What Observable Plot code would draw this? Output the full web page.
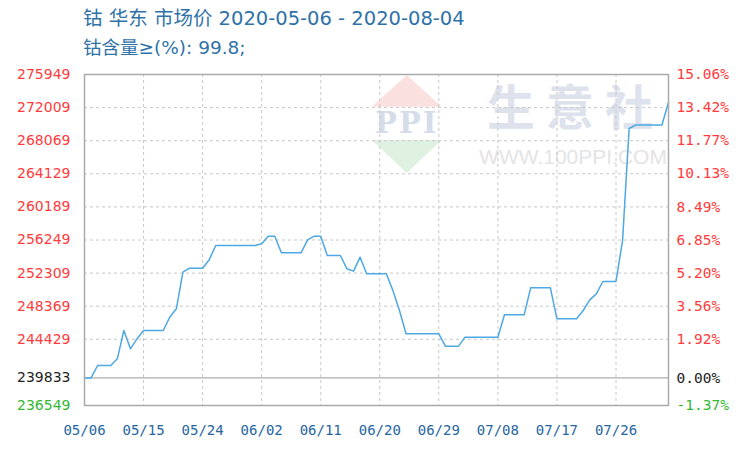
<!DOCTYPE html>
<html><head><meta charset="utf-8">
<script src="https://cdn.jsdelivr.net/npm/d3@7"></script>
<script src="https://cdn.jsdelivr.net/npm/@observablehq/plot@0.6"></script>
<style>
body{margin:0;background:#fff;width:738px;height:456px;overflow:hidden}
#head{height:64px;position:relative;font-family:"DejaVu Sans","Noto Sans CJK SC",sans-serif;color:#2f72a8}
#t1{position:absolute;left:83px;top:7px;font-size:19.5px;line-height:24px;white-space:nowrap}
#t2{position:absolute;left:83px;top:36px;font-size:18.5px;line-height:24px;white-space:nowrap}
#chart svg{display:block}
</style></head>
<body>
<div id="head"><div id="t1"></div><div id="t2"></div></div>
<div id="chart"></div>
<script>
const titleText = "钴 华东 市场价 2020-05-06 - 2020-08-04";
const subtitleText = "钴含量≥(%): 99.8;";
const startDate = "2020-05-06";
const prices = [
  239833, 239833, 241311, 241311, 241311, 242108, 245477, 243297, 244487, 245477,
  245477, 245477, 245477, 247062, 248057, 252419, 252896, 252896, 252896, 253890,
  255595, 255595, 255595, 255595, 255595, 255595, 255595, 255794, 256702, 256702,
  254724, 254724, 254724, 254724, 256270, 256702, 256702, 254405, 254405, 254405,
  252819, 252540, 254207, 252223, 252223, 252223, 252223, 250239, 247858, 245081,
  245081, 245081, 245081, 245081, 245081, 243612, 243612, 243612, 244683, 244683,
  244683, 244683, 244683, 244683, 247343, 247343, 247343, 247343, 250557, 250557,
  250557, 250557, 246867, 246867, 246867, 246867, 247858, 249127, 249842, 251310,
  251310, 251310, 256189, 269521, 269938, 269938, 269938, 269938, 269938, 272652
];
const yTicksUp = [275949, 272009, 268069, 264129, 260189, 256249, 252309, 248369, 244429];
const yTickBase = 239833;
const yTickDown = 236549;
const pctUp = ["15.06%", "13.42%", "11.77%", "10.13%", "8.49%", "6.85%", "5.20%", "3.56%", "1.92%"];
const pctBase = "0.00%";
const pctDown = "-1.37%";
const xTickLabels = ["05/06", "05/15", "05/24", "06/02", "06/11", "06/20", "06/29", "07/08", "07/17", "07/26"];

document.getElementById("t1").textContent = titleText;
document.getElementById("t2").textContent = subtitleText;

const start = new Date(startDate + "T00:00:00Z");
const data = prices.map((v, i) => ({date: d3.utcDay.offset(start, i), value: v}));
const xTicks = xTickLabels.map(s => new Date("2020-" + s.replace("/", "-") + "T00:00:00Z"));
const pctMap = new Map(yTicksUp.map((t, i) => [t, pctUp[i]]));
pctMap.set(yTickBase, pctBase);
pctMap.set(yTickDown, pctDown);

function logo(index, scales, values, dims) {
  const g = d3.create("svg:g");
  const ox = dims.marginLeft, oy = dims.marginTop;
  g.append("path").attr("d", `M${ox+322.7},${oy+1}L${ox+357.7},${oy+32.7}L${ox+287.7},${oy+32.7}Z`).attr("fill", "#fbe0e0");
  g.append("path").attr("d", `M${ox+287.7},${oy+66}L${ox+357.7},${oy+66}L${ox+322.7},${oy+99}Z`).attr("fill", "#dff2e1");
  g.append("text").attr("x", ox+322.7).attr("y", oy+48.5).attr("dy", "0.36em").attr("text-anchor", "middle")
    .attr("font-family", "DejaVu Serif, serif").attr("font-weight", "bold").attr("font-size", 29)
    .attr("letter-spacing", 2).attr("fill", "#d5dcea").text("PPI");
  return g.node();
}

const font = "DejaVu Sans";
const mono = "DejaVu Sans Mono";
const chart = Plot.plot({
  width: 738, height: 392,
  marginTop: 10, marginBottom: 51, marginLeft: 84, marginRight: 70,
  style: {background: "#fff", fontFamily: font},
  x: {type: "utc", domain: [data[0].date, data[data.length - 1].date]},
  y: {domain: [yTickDown, yTicksUp[0]]},
  marks: [
    logo,
    Plot.text(["生 意 社"], {frameAnchor: "top-left", dx: 485.5, dy: 35, textAnchor: "middle", lineAnchor: "middle",
      fontSize: 48, fontWeight: "bold", fill: "#dde2ec", fontFamily: "Noto Sans CJK SC"}),
    Plot.text(["WWW.100PPI.COM"], {frameAnchor: "top-left", dx: 488.5, dy: 83, textAnchor: "middle", lineAnchor: "middle",
      fontSize: 21, fill: "#e4e4e4", fontFamily: "Liberation Sans"}),
    Plot.ruleY(yTicksUp.slice(1), {stroke: "#c8c8c8", strokeDasharray: "3,3"}),
    Plot.ruleX(xTicks.slice(1), {stroke: "#c8c8c8", strokeDasharray: "3,3"}),
    Plot.ruleY([yTickBase], {stroke: "#999"}),
    Plot.line(data, {x: "date", y: "value", stroke: "#4ea8e3", strokeWidth: 1.5}),
    Plot.frame({stroke: "#aaa", strokeWidth: 1.5}),
    Plot.axisY({ticks: yTicksUp, anchor: "left", tickSize: 0, tickPadding: 14, color: "#ff3b3b", fill: "#ff3b3b", fontSize: 14, tickFormat: d => String(d), label: null}),
    Plot.axisY({ticks: [yTickBase], anchor: "left", tickSize: 0, tickPadding: 14, color: "#222", fill: "#222", fontSize: 14, tickFormat: d => String(d), label: null}),
    Plot.axisY({ticks: [yTickDown], anchor: "left", tickSize: 0, tickPadding: 14, color: "#33b833", fill: "#33b833", fontSize: 14, tickFormat: d => String(d), label: null}),
    Plot.axisY({ticks: yTicksUp, anchor: "right", tickSize: 0, tickPadding: 8, color: "#ff3b3b", fill: "#ff3b3b", fontSize: 14.5, fontFamily: mono, tickFormat: d => pctMap.get(d), label: null}),
    Plot.axisY({ticks: [yTickBase], anchor: "right", tickSize: 0, tickPadding: 8, color: "#222", fill: "#222", fontSize: 14.5, fontFamily: mono, tickFormat: d => pctMap.get(d), label: null}),
    Plot.axisY({ticks: [yTickDown], anchor: "right", tickSize: 0, tickPadding: 8, color: "#33b833", fill: "#33b833", fontSize: 14.5, fontFamily: mono, tickFormat: d => pctMap.get(d), label: null}),
    Plot.axisX({ticks: xTicks, tickSize: 0, tickPadding: 20, color: "#2565a0", fill: "#2565a0", fontSize: 14, fontFamily: mono, tickFormat: d3.utcFormat("%m/%d"), label: null})
  ]
});
document.getElementById("chart").appendChild(chart);
</script>
</body></html>
